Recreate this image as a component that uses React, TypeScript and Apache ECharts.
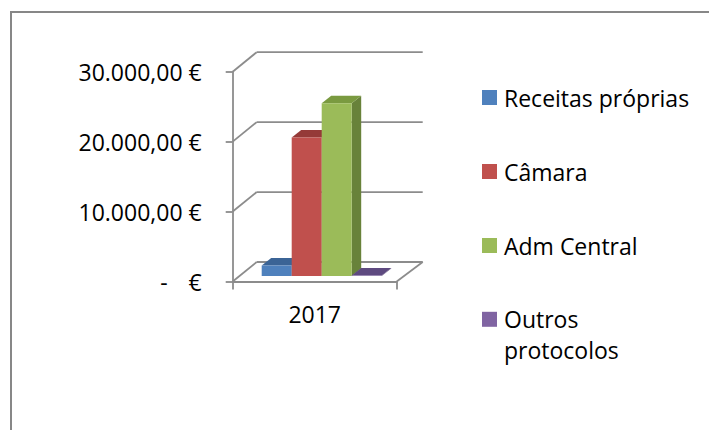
import React, { useEffect, useRef } from 'react';
import * as echarts from 'echarts';

// ---- data ----
const categories = ['2017'];
const seriesNames = ['Receitas próprias', 'Câmara', 'Adm Central', 'Outros protocolos'];
const seriesValues = [1500, 19800, 24700, 60];
const yTicks = [0, 10000, 20000, 30000];

// ---- styles ----
const frontColors = ['#4F81BD', '#C0504D', '#9BBB59', '#8064A2'];
const topColors = ['#3B6496', '#953A38', '#7A9A40', '#5E4A80'];
const sideColors = ['#365A87', '#8A3533', '#68823A', '#56446F'];
const FONT = 'Open Sans';
const FS = 23;
const GRID_COLOR = '#8C8C8C';

// depth geometry
const DXL = 24;
const DXR = 26;
const DY = -19.5;
const SX = 7;
const SY = -5.5;
const BDX = 9.5;
const BDY = -7.5;
const BAR_FRAC = 30 / 164;

const fmtEuro = (v: number) => {
  if (v === 0) return '{d|-}{e|€}';
  const s = Math.round(v).toString().replace(/\B(?=(\d{3})+(?!\d))/g, '.');
  return s + ',00 €';
};

const legendCenters = [97.5, 171.5, 245.5, 319.3];

export default function App() {
  const ref = useRef<HTMLDivElement>(null);
  useEffect(() => {
    if (!ref.current) return;
    const chart = echarts.init(ref.current, undefined, { renderer: 'svg' });
    const lineStyle = { stroke: GRID_COLOR, lineWidth: 1.8 };

    const wallSeries: any = {
      type: 'custom',
      name: '__wall',
      silent: true,
      clip: false,
      z: 1,
      data: yTicks.map((v) => [0, v]),
      encode: { x: 0, y: 1 },
      renderItem: (params: any, api: any) => {
        const cs = params.coordSys;
        const v = api.value(1);
        const y = api.coord([0, v])[1];
        const x0 = cs.x;
        const x1 = cs.x + cs.width;
        const children: any[] = [
          { type: 'line', shape: { x1: x0, y1: y, x2: x0 + DXL, y2: y + DY }, style: lineStyle },
          { type: 'line', shape: { x1: x0 + DXL, y1: y + DY, x2: x1 + DXR, y2: y + DY }, style: lineStyle },
        ];
        if (v === 0) {
          children.push({ type: 'line', shape: { x1: x1, y1: y, x2: x1 + DXR, y2: y + DY }, style: lineStyle });
        }
        return { type: 'group', children };
      },
    };

    const barSeries = seriesNames.map((name, idx) => ({
      type: 'custom',
      name,
      clip: false,
      z: 3,
      itemStyle: { color: frontColors[idx] },
      data: [[0, seriesValues[idx]]],
      encode: { x: 0, y: 1 },
      renderItem: (params: any, api: any) => {
        const cat = api.value(0);
        const val = api.value(1);
        const base = api.coord([cat, 0]);
        const top = api.coord([cat, val]);
        const band = api.size([1, 0])[0];
        const barW = band * BAR_FRAC;
        const groupLeft = base[0] - (barW * seriesNames.length) / 2;
        const xL = groupLeft + idx * barW + SX;
        const xR = xL + barW;
        const yB = base[1] + SY;
        const yT = top[1] + SY;
        return {
          type: 'group',
          children: [
            {
              type: 'polygon',
              shape: { points: [[xR, yT], [xR + BDX, yT + BDY], [xR + BDX, yB + BDY], [xR, yB]] },
              style: { fill: sideColors[idx] },
            },
            {
              type: 'polygon',
              shape: { points: [[xL, yT], [xR, yT], [xR + BDX, yT + BDY], [xL + BDX, yT + BDY]] },
              style: { fill: topColors[idx] },
            },
            {
              type: 'rect',
              shape: { x: xL, y: yT, width: barW, height: Math.max(yB - yT, 0) },
              style: { fill: frontColors[idx] },
            },
          ],
        };
      },
    }));

    const legends = seriesNames.map((name, idx) => {
      const multi = name === 'Outros protocolos';
      const lh = multi ? 31 : 30;
      const h = multi ? lh * 3 : lh;
      return {
        data: [name],
        orient: 'vertical',
        left: 482,
        top: legendCenters[idx] - h / 2,
        padding: 0,
        icon: 'rect',
        itemWidth: 15,
        itemHeight: 15,
        selectedMode: false,
        formatter: (n: string) => (n === 'Outros protocolos' ? '\u00a0\nOutros\nprotocolos' : n),
        textStyle: {
          fontFamily: FONT,
          fontSize: FS,
          color: '#000',
          lineHeight: lh,
          padding: [0, 0, 0, 2],
        },
      };
    });

    chart.setOption({
      animation: false,
      backgroundColor: '#ffffff',
      graphic: [
        {
          type: 'rect',
          shape: { x: 11, y: 12, width: 760, height: 500 },
          style: { fill: 'none', stroke: '#878787', lineWidth: 2 },
          silent: true,
        },
      ],
      legend: legends,
      grid: { left: 232.7, top: 71.7, width: 164, height: 209.8 },
      xAxis: {
        type: 'category',
        data: categories,
        boundaryGap: true,
        axisLine: { show: true, lineStyle: { color: GRID_COLOR, width: 1.8 } },
        axisTick: { show: true, length: 8, lineStyle: { color: GRID_COLOR, width: 1.8 } },
        axisLabel: { fontFamily: FONT, fontSize: FS, color: '#000', margin: 21 },
        splitLine: { show: false },
      },
      yAxis: {
        type: 'value',
        min: 0,
        max: 30000,
        interval: 10000,
        axisLine: { show: true, lineStyle: { color: GRID_COLOR, width: 1.8 } },
        axisTick: { show: true, length: 7, lineStyle: { color: GRID_COLOR, width: 1.8 } },
        splitLine: { show: false },
        axisLabel: {
          fontFamily: FONT,
          fontSize: FS,
          color: '#000',
          margin: 31,
          formatter: (v: number) => fmtEuro(v),
          rich: {
            d: { fontFamily: FONT, fontSize: FS, color: '#000', padding: [0, 21, 0, 0] },
            e: { fontFamily: FONT, fontSize: FS, color: '#000' },
          },
        },
      },
      series: [wallSeries, ...barSeries],
    });
    return () => chart.dispose();
  }, []);
  return <div ref={ref} style={{ position: 'fixed', left: 0, top: 0, width: 709, height: 430 }} />;
}
